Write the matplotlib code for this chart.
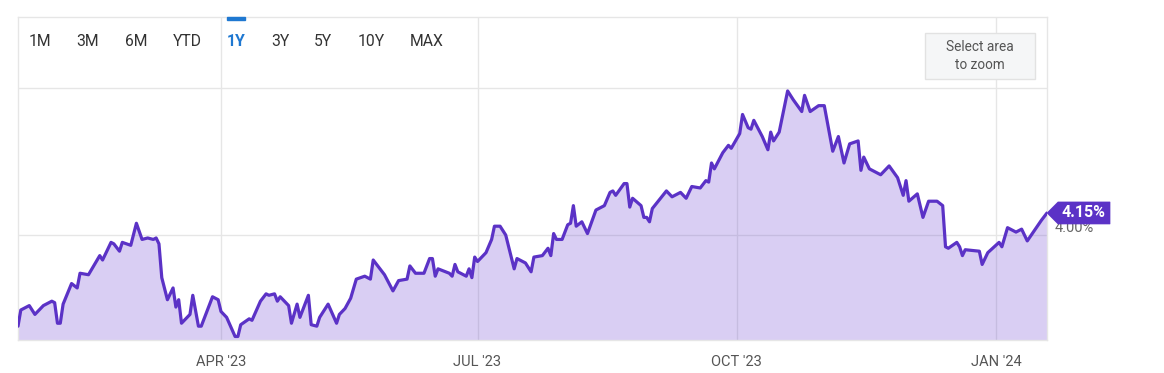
import matplotlib
matplotlib.use("Agg")
import matplotlib.pyplot as plt
import matplotlib.dates as mdates
import matplotlib.transforms as mtransforms
import pandas as pd
from matplotlib.patches import Rectangle, FancyBboxPatch, Polygon

plt.rcParams['font.family'] = ['Roboto', 'DejaVu Sans']

dates = [
    "2023-01-19", "2023-01-20", "2023-01-23", "2023-01-25", "2023-01-28", "2023-01-31",
    "2023-02-01", "2023-02-02", "2023-02-03", "2023-02-04", "2023-02-07", "2023-02-09",
    "2023-02-10", "2023-02-13", "2023-02-17", "2023-02-18", "2023-02-21", "2023-02-22",
    "2023-02-24", "2023-02-25", "2023-02-28", "2023-03-02", "2023-03-04", "2023-03-06",
    "2023-03-08", "2023-03-09", "2023-03-10", "2023-03-11", "2023-03-13", "2023-03-15",
    "2023-03-16", "2023-03-17", "2023-03-18", "2023-03-21", "2023-03-22", "2023-03-24",
    "2023-03-25", "2023-03-29", "2023-03-31", "2023-04-01", "2023-04-03", "2023-04-06",
    "2023-04-07", "2023-04-08", "2023-04-11", "2023-04-12", "2023-04-15", "2023-04-17",
    "2023-04-18", "2023-04-20", "2023-04-21", "2023-04-22", "2023-04-25", "2023-04-26",
    "2023-04-28", "2023-04-29", "2023-05-02", "2023-05-03", "2023-05-05", "2023-05-06",
    "2023-05-09", "2023-05-12", "2023-05-13", "2023-05-15", "2023-05-17", "2023-05-19",
    "2023-05-22", "2023-05-24", "2023-05-25", "2023-05-29", "2023-06-01", "2023-06-03",
    "2023-06-06", "2023-06-07", "2023-06-09", "2023-06-12", "2023-06-14", "2023-06-15",
    "2023-06-16", "2023-06-17", "2023-06-21", "2023-06-22", "2023-06-23", "2023-06-24",
    "2023-06-27", "2023-06-28", "2023-06-29", "2023-06-30", "2023-07-01", "2023-07-04",
    "2023-07-06", "2023-07-07", "2023-07-09", "2023-07-11", "2023-07-14", "2023-07-15",
    "2023-07-18", "2023-07-20", "2023-07-21", "2023-07-24", "2023-07-26", "2023-07-27",
    "2023-07-28", "2023-07-29", "2023-07-31", "2023-08-02", "2023-08-03", "2023-08-04",
    "2023-08-05", "2023-08-07", "2023-08-09", "2023-08-12", "2023-08-15", "2023-08-17",
    "2023-08-18", "2023-08-19", "2023-08-22", "2023-08-23", "2023-08-24", "2023-08-25",
    "2023-08-28", "2023-08-29", "2023-08-30", "2023-08-31", "2023-09-01", "2023-09-06",
    "2023-09-08", "2023-09-11", "2023-09-13", "2023-09-15", "2023-09-18", "2023-09-20",
    "2023-09-21", "2023-09-22", "2023-09-23", "2023-09-26", "2023-09-28", "2023-09-29",
    "2023-10-02", "2023-10-03", "2023-10-05", "2023-10-06", "2023-10-07", "2023-10-10",
    "2023-10-12", "2023-10-13", "2023-10-14", "2023-10-16", "2023-10-19", "2023-10-21",
    "2023-10-24", "2023-10-25", "2023-10-27", "2023-10-30", "2023-11-01", "2023-11-04",
    "2023-11-06", "2023-11-08", "2023-11-10", "2023-11-13", "2023-11-14", "2023-11-15",
    "2023-11-17", "2023-11-21", "2023-11-24", "2023-11-27", "2023-11-29", "2023-11-30",
    "2023-12-01", "2023-12-04", "2023-12-06", "2023-12-08", "2023-12-11", "2023-12-13",
    "2023-12-14", "2023-12-15", "2023-12-18", "2023-12-19", "2023-12-20", "2023-12-21",
    "2023-12-26", "2023-12-27", "2023-12-29", "2024-01-02", "2024-01-03", "2024-01-05",
    "2024-01-08", "2024-01-10", "2024-01-12", "2024-01-17", "2024-01-19",
]

values = [
    3.38, 3.49, 3.52, 3.46, 3.52, 3.55,
    3.54, 3.40, 3.40, 3.53, 3.67, 3.64,
    3.74, 3.73, 3.86, 3.83, 3.95, 3.94,
    3.89, 3.95, 3.93, 4.08, 3.97, 3.98,
    3.97, 3.98, 3.94, 3.71, 3.56, 3.64,
    3.51, 3.56, 3.40, 3.46, 3.59, 3.38,
    3.38, 3.58, 3.56, 3.48, 3.44, 3.31,
    3.31, 3.39, 3.43, 3.42, 3.55, 3.60,
    3.59, 3.60, 3.55, 3.58, 3.52, 3.40,
    3.53, 3.44, 3.59, 3.39, 3.38, 3.44,
    3.53, 3.40, 3.46, 3.50, 3.57, 3.70,
    3.72, 3.70, 3.83, 3.73, 3.62, 3.69,
    3.70, 3.79, 3.74, 3.74, 3.84, 3.84,
    3.72, 3.77, 3.74, 3.72, 3.80, 3.75,
    3.72, 3.77, 3.71, 3.85, 3.82, 3.88,
    3.97, 4.06, 4.06, 4.00, 3.77, 3.84,
    3.81, 3.75, 3.85, 3.86, 3.91, 3.86,
    4.01, 3.97, 3.97, 4.07, 4.08, 4.20,
    4.06, 4.09, 4.01, 4.17, 4.20, 4.29,
    4.30, 4.27, 4.35, 4.35, 4.19, 4.25,
    4.20, 4.12, 4.12, 4.09, 4.18, 4.30,
    4.26, 4.29, 4.25, 4.33, 4.32, 4.37,
    4.36, 4.49, 4.45, 4.56, 4.61, 4.59,
    4.69, 4.82, 4.73, 4.72, 4.78, 4.67,
    4.58, 4.70, 4.64, 4.70, 4.98, 4.92,
    4.84, 4.95, 4.84, 4.88, 4.88, 4.57,
    4.67, 4.49, 4.62, 4.64, 4.44, 4.53,
    4.45, 4.41, 4.47, 4.39, 4.27, 4.37,
    4.23, 4.28, 4.12, 4.23, 4.23, 4.20,
    3.92, 3.91, 3.95, 3.92, 3.86, 3.90,
    3.89, 3.80, 3.88, 3.95, 3.92, 4.05,
    4.02, 4.04, 3.96, 4.10, 4.15,
]

tick_dates = ["2023-04-01", "2023-07-01", "2023-10-01", "2024-01-01"]
tick_labels = ["APR '23", "JUL '23", "OCT '23", "JAN '24"]
y_grid = [4.0, 5.0]
y_label_values = [4.0]
range_buttons = ["1M", "3M", "6M", "YTD", "1Y", "3Y", "5Y", "10Y", "MAX"]
active_button = "1Y"

x = pd.to_datetime(dates)
tx = pd.to_datetime(tick_dates)

W, H = 1164, 373
fig = plt.figure(figsize=(W / 100, H / 100), dpi=100)
fig.patch.set_facecolor("white")

L, R, T, B = 18, 1047, 17, 340
ax = fig.add_axes([L / W, (H - B) / H, (R - L) / W, (B - T) / H])

LINE = "#5b32c6"
GRID = "#e6e6e6"

ax.set_xlim(x[0], x[-1])
ax.set_ylim(3.286, 5.483)

for t in tx:
    ax.axvline(t, color=GRID, lw=1, zorder=0)
for g in y_grid:
    ax.axhline(g, color=GRID, lw=1, zorder=0)

ax.fill_between(x, values, 3.0, color="#6a3fd0", alpha=0.25, lw=0, zorder=1)
ax.plot(x, values, color=LINE, lw=2.3, solid_joinstyle="round",
        solid_capstyle="round", zorder=3)

for s in ax.spines.values():
    s.set_color(GRID)
    s.set_linewidth(1)

ax.set_xticks(tx)
ax.set_xticklabels(tick_labels)
ax.tick_params(axis="x", length=0, pad=11, labelsize=10.5, labelcolor="#555555")
ax.set_yticks([])

for v in y_label_values:
    ax.annotate(f"{v:.2f}%", xy=(1.0, v), xycoords=("axes fraction", "data"),
                xytext=(8, 7), textcoords="offset pixels", ha="left", va="center",
                fontsize=10.5, color="#666666", annotation_clip=False, zorder=4)

# last-value flag: arrow + box anchored at the final data point
px, py = ax.transData.transform((mdates.date2num(x[-1]), values[-1]))
flag_tr = mtransforms.Affine2D().translate(px, py)
flag = Polygon([(0, 0), (11, 11), (63, 11), (63, -11), (11, -11)], closed=True,
               transform=flag_tr, fc=LINE, ec=LINE, lw=0.5, zorder=6, clip_on=False)
ax.add_artist(flag)
ax.annotate(f"{values[-1]:.2f}%", xy=(x[-1], values[-1]), xytext=(37, 0),
            textcoords="offset pixels", ha="center", va="center",
            fontsize=11.5, fontweight="bold", color="white",
            annotation_clip=False, zorder=7)

# range selector buttons
btn_x = [40, 88, 136, 187, 236, 280, 323, 371, 427]
for lbl, bx in zip(range_buttons, btn_x):
    active = lbl == active_button
    fig.text(bx / W, 1 - 41 / H, lbl, ha="center", va="center",
             fontsize=11.3, color="#1f78d1" if active else "#333333",
             fontweight="bold" if active else "normal")
    if active:
        fig.patches.append(Rectangle(((bx - 9) / W, 1 - 20 / H), 18 / W, 3 / H,
                                     transform=fig.transFigure, color="#1f78d1"))

# select area box
fig.patches.append(FancyBboxPatch((925 / W, 1 - 79 / H), 110 / W, 46 / H,
                                  boxstyle="square,pad=0", transform=fig.transFigure,
                                  fc="#f5f6f7", ec="#e2e2e2", lw=1, zorder=5))
fig.text(980 / W, 1 - 56 / H, "Select area\nto zoom", ha="center", va="center",
         fontsize=9.8, color="#555555", linespacing=1.3, zorder=6)

fig.savefig("out.png", dpi=100, facecolor="white")
